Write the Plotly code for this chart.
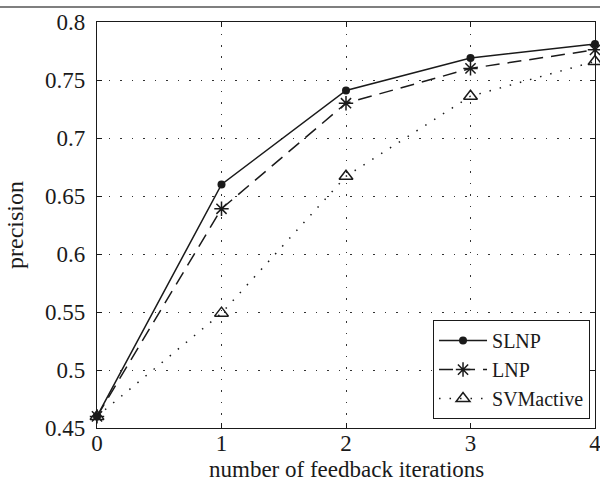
import plotly.graph_objects as go

iterations = [0, 1, 2, 3, 4]
slnp = [0.46, 0.660, 0.741, 0.769, 0.781]
lnp = [0.46, 0.639, 0.730, 0.760, 0.776]
svmactive = [0.46, 0.549, 0.667, 0.736, 0.766]
y_ticks = [0.45, 0.5, 0.55, 0.6, 0.65, 0.7, 0.75, 0.8]
y_tick_labels = ["0.45", "0.5", "0.55", "0.6", "0.65", "0.7", "0.75", "0.8"]

FONT = "Liberation Serif, Times New Roman, serif"
INK = "#1a1a1a"

fig = go.Figure()
fig.add_trace(go.Scatter(
    x=iterations, y=slnp, name="SLNP", mode="lines+markers",
    line=dict(color=INK, width=1.5, dash="solid"),
    marker=dict(symbol="circle", size=8, color=INK),
    cliponaxis=False))
fig.add_trace(go.Scatter(
    x=iterations, y=lnp, name="LNP", mode="lines+markers",
    line=dict(color=INK, width=1.5, dash="14px,8px"),
    marker=dict(symbol="asterisk-open", size=12, color=INK, line=dict(color=INK, width=1.5)),
    cliponaxis=False))
fig.add_trace(go.Scatter(
    x=iterations, y=svmactive, name="SVMactive", mode="lines+markers",
    line=dict(color=INK, width=1.5, dash="1.5px,9px"),
    marker=dict(symbol="triangle-up-open", size=12, color=INK, line=dict(color=INK, width=1.5)),
    cliponaxis=False))

axis_common = dict(
    showline=True, linecolor=INK, linewidth=1.2, mirror="ticks",
    ticks="inside", ticklen=5, tickcolor=INK, tickwidth=1.2,
    showgrid=True, gridcolor="#333333", gridwidth=1, griddash="1.5px,10px",
    zeroline=False, tickfont=dict(family=FONT, size=23, color=INK),
    ticklabeloverflow="allow",
)

fig.update_xaxes(
    range=[0, 4], tickvals=iterations, ticktext=[str(v) for v in iterations],
    ticklabelstandoff=-6,
    **axis_common)
fig.update_yaxes(
    range=[0.45, 0.8], tickvals=y_ticks, ticktext=y_tick_labels,
    title=dict(text="precision", font=dict(family=FONT, size=24, color=INK), standoff=14),
    ticklabelstandoff=6,
    **axis_common)

# x-axis title placed as an annotation so it can sit as close to the tick labels as in the original
fig.add_annotation(text="number of feedback iterations", xref="paper", yref="paper",
                   x=0.5, y=0, xanchor="center", yanchor="middle", yshift=-41,
                   showarrow=False, font=dict(family=FONT, size=23, color=INK))

fig.add_shape(type="line", xref="paper", yref="paper", x0=-0.3, x1=1.1, y0=1.037, y1=1.037,
              line=dict(color="#555555", width=1.5))

fig.update_layout(
    width=600, height=487,
    margin=dict(l=97, r=5, t=22, b=59, autoexpand=False),
    paper_bgcolor="white", plot_bgcolor="white",
    font=dict(family=FONT, size=20, color=INK),
    showlegend=True,
    legend=dict(x=0.99, y=0.022, xanchor="right", yanchor="bottom",
                bordercolor=INK, borderwidth=1, bgcolor="white",
                font=dict(family=FONT, size=20, color=INK),
                itemwidth=48, tracegroupgap=0),
)

# remove the browser's default 8px body margin so the 600x487 figure fills the window exactly
fig.write_html("out.html", config={"displayModeBar": False},
               post_script="document.body.style.margin='0';document.body.style.overflow='hidden';")
